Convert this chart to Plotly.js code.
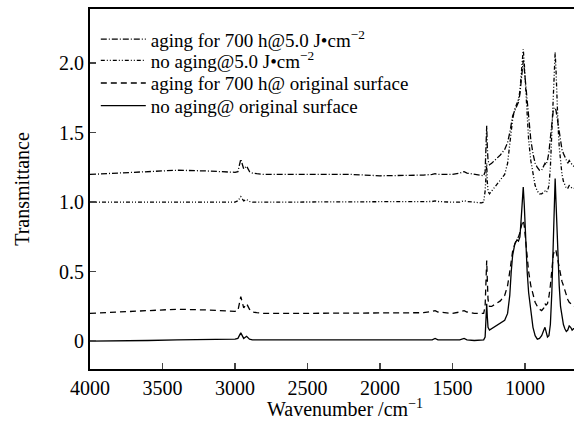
<!DOCTYPE html>
<html>
<head>
<meta charset="utf-8">
<script src="https://cdn.plot.ly/plotly-3.0.1.min.js"></script>
<style>html,body{margin:0;padding:0;background:#fff}#chart{width:574px;height:424px}</style>
</head>
<body>
<div id="chart"></div>
<script>
const wavenumber = [4000,3800,3600,3400,3200,3050,3000,2980,2960,2940,2920,2900,2880,2850,2800,2600,2400,2200,2000,1800,1700,1640,1620,1600,1500,1450,1420,1400,1350,1300,1285,1275,1268,1264,1260,1255,1245,1230,1200,1170,1140,1120,1105,1095,1085,1070,1055,1045,1035,1025,1018,1012,1005,995,985,975,960,945,930,915,900,885,870,862,855,845,835,825,815,805,798,792,786,780,772,764,755,745,735,725,715,705,695,685,675,665,660];

const agingFiveJ = [1.2,1.21,1.225,1.23,1.225,1.215,1.215,1.22,1.31,1.24,1.26,1.22,1.21,1.205,1.2,1.2,1.2,1.2,1.19,1.19,1.195,1.2,1.205,1.2,1.2,1.21,1.22,1.21,1.2,1.19,1.19,1.22,1.4,1.55,1.4,1.3,1.27,1.28,1.31,1.34,1.38,1.43,1.5,1.56,1.62,1.66,1.7,1.72,1.78,1.88,1.98,2.02,1.96,1.85,1.72,1.6,1.45,1.35,1.28,1.25,1.23,1.23,1.26,1.28,1.27,1.3,1.36,1.45,1.58,1.66,1.68,1.68,1.66,1.62,1.57,1.5,1.43,1.38,1.35,1.33,1.3,1.28,1.3,1.28,1.27,1.26,1.26];

const noAgingFiveJ = [1.0,1.0,1.0,1.005,1.005,1.0,1.0,1.01,1.04,1.01,1.02,1.005,1.0,1.0,1.0,1.0,1.0,1.0,1.0,1.0,1.0,1.005,1.01,1.005,1.0,1.0,1.01,1.005,1.0,0.995,1.0,1.08,1.2,1.28,1.15,1.08,1.06,1.08,1.12,1.16,1.2,1.28,1.4,1.5,1.6,1.67,1.72,1.74,1.8,1.92,2.05,2.1,2.0,1.8,1.6,1.45,1.3,1.2,1.12,1.08,1.06,1.06,1.07,1.08,1.07,1.08,1.12,1.25,1.5,1.8,2.02,2.08,1.95,1.75,1.55,1.4,1.28,1.2,1.15,1.12,1.1,1.1,1.12,1.11,1.1,1.1,1.1];

const agingOriginal = [0.2,0.21,0.225,0.23,0.225,0.215,0.215,0.22,0.32,0.24,0.27,0.23,0.21,0.205,0.2,0.2,0.2,0.2,0.2,0.2,0.205,0.215,0.22,0.21,0.2,0.21,0.22,0.21,0.2,0.2,0.2,0.25,0.45,0.58,0.45,0.3,0.25,0.25,0.27,0.29,0.33,0.4,0.5,0.58,0.65,0.7,0.74,0.75,0.78,0.83,0.86,0.87,0.83,0.72,0.6,0.5,0.4,0.33,0.28,0.25,0.23,0.22,0.24,0.27,0.26,0.27,0.32,0.4,0.52,0.62,0.65,0.66,0.65,0.62,0.58,0.52,0.47,0.43,0.4,0.36,0.32,0.3,0.28,0.27,0.26,0.25,0.25];

const noAgingOriginal = [0,0,0.005,0.01,0.01,0.01,0.015,0.02,0.06,0.02,0.035,0.015,0.01,0.01,0.01,0.01,0.01,0.01,0.01,0.01,0.01,0.01,0.02,0.01,0.01,0.01,0.02,0.01,0.005,0.005,0.01,0.03,0.15,0.27,0.18,0.1,0.08,0.09,0.11,0.13,0.15,0.2,0.33,0.5,0.62,0.7,0.73,0.72,0.75,0.9,1.05,1.11,0.98,0.72,0.5,0.35,0.2,0.1,0.04,0.015,0.02,0.04,0.08,0.1,0.07,0.03,0.04,0.12,0.35,0.7,1.05,1.17,1.0,0.8,0.58,0.4,0.25,0.17,0.12,0.09,0.07,0.08,0.11,0.1,0.08,0.09,0.09];

const seriesNames = [
  'aging for 700 h@5.0 J\u2022cm<sup>\u22122</sup>',
  'no aging@5.0 J\u2022cm<sup>\u22122</sup>',
  'aging for 700 h@ original surface',
  'no aging@ original surface'
];
const xTicks = [4000,3500,3000,2500,2000,1500,1000];
const yTicks = [0,0.5,1.0,1.5,2.0];
const yTickText = ['0','0.5','1.0','1.5','2.0'];

const dashes = ['6px,2px,1px,2px', '4px,2px,1px,2px,1px,2px', '6px,4px', 'solid'];
const ys = [agingFiveJ, noAgingFiveJ, agingOriginal, noAgingOriginal];
const legendIds = ['legend', 'legend2', 'legend3', 'legend4'];
const legendY = [0.916, 0.857, 0.794, 0.731];

const traces = ys.map((y, i) => ({
  x: wavenumber, y: y, type: 'scatter', mode: 'lines', name: seriesNames[i],
  legend: legendIds[i],
  line: {color: '#000', width: 1.3, dash: dashes[i]}
}));

const font = '"Liberation Serif", "Times New Roman", serif';
const layout = {
  width: 574, height: 424,
  margin: {l: 90, r: 0, t: 9, b: 55},
  paper_bgcolor: '#fff', plot_bgcolor: '#fff',
  font: {family: font, size: 18, color: '#000'},
  showlegend: true,
  xaxis: {range: [4000, 662], tickvals: xTicks, ticks: 'inside', ticklen: 6, tickwidth: 1.5,
          showline: true, linewidth: 2, linecolor: '#000', mirror: true, showgrid: false, zeroline: false,
          tickfont: {family: font, size: 20}},
  yaxis: {range: [-0.2, 2.39], tickvals: yTicks, ticktext: yTickText, ticks: 'inside', ticklen: 6, tickwidth: 1.5,
          showline: true, linewidth: 2, linecolor: '#000', mirror: false, showgrid: false, zeroline: false,
          tickfont: {family: font, size: 20},
          title: {text: 'Transmittance', font: {family: font, size: 20}, standoff: 24}},
  annotations: [{text: 'Wavenumber /cm<sup>\u22121</sup>', xref: 'paper', yref: 'paper', x: 0.527, y: 0,
                 yshift: -39, xanchor: 'center', yanchor: 'middle', showarrow: false,
                 font: {family: font, size: 20, color: '#000'}}]
};
legendIds.forEach((id, i) => {
  layout[id] = {x: 0.012, y: legendY[i], xanchor: 'left', yanchor: 'middle', bgcolor: 'rgba(0,0,0,0)',
                itemwidth: 45, font: {family: font, size: 19, color: '#000'}};
});
Plotly.newPlot('chart', traces, layout, {displayModeBar: false, staticPlot: true});
</script>
</body>
</html>
